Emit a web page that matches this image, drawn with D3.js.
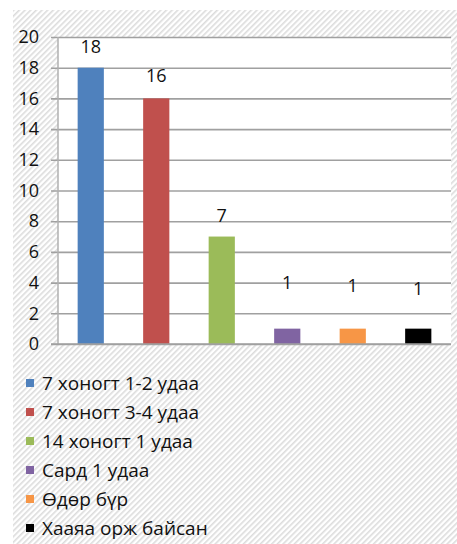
<!DOCTYPE html>
<html>
<head>
<meta charset="utf-8">
<script src="https://cdn.jsdelivr.net/npm/d3@7"></script>
<style>
  body { margin: 0; background: #fff; }
  svg text { font-family: "Open Sans", "Liberation Sans", sans-serif; fill: #111; }
</style>
</head>
<body>
<div id="chart"></div>
<script>
var width = 457
var height = 544

// data
var categories = ["7 хоногт 1-2 удаа", "7 хоногт 3-4 удаа", "14 хоногт 1 удаа", "Сард 1 удаа", "Өдөр бүр", "Хааяа орж байсан"]
var values = [18, 16, 7, 1, 1, 1]
var colors = ["#4f81bd", "#c0504d", "#9bbb59", "#8064a2", "#f79646", "#000000"]
var yTicks = [0, 2, 4, 6, 8, 10, 12, 14, 16, 18, 20]

// label offsets above bar top (the small ones sit higher, as in the source)
var labelLift = [21, 23, 21, 46, 43, 40]

var plot = { left: 58, right: 451, top: 37, bottom: 344 }

var svg = d3.select("#chart").append("svg")
    .attr("width", width)
    .attr("height", height)

// hatched background
var defs = svg.append("defs")
var pat = defs.append("pattern")
    .attr("id", "hatch")
    .attr("patternUnits", "userSpaceOnUse")
    .attr("width", 4).attr("height", 4)
    .attr("patternTransform", "rotate(45)")
pat.append("rect").attr("width", 4).attr("height", 4).attr("fill", "#ffffff")
pat.append("rect").attr("width", 1.6).attr("height", 4).attr("fill", "#dcdcdc")

svg.append("rect")
    .attr("x", 13).attr("y", 10)
    .attr("width", width - 13).attr("height", height - 10)
    .attr("fill", "url(#hatch)")

svg.append("rect")
    .attr("x", plot.left).attr("y", plot.top)
    .attr("width", plot.right - plot.left).attr("height", plot.bottom - plot.top)
    .attr("fill", "#ffffff")

var x = d3.scaleBand()
    .domain(categories)
    .range([plot.left, plot.right])
    .paddingInner(0.6)
    .paddingOuter(0.3)

var y = d3.scaleLinear()
    .domain([0, 20])
    .range([plot.bottom, plot.top])

// gridlines + y axis
var yAxis = d3.axisLeft(y)
    .tickValues(yTicks)
    .tickSize(-(plot.right - plot.left))

var gy = svg.append("g")
    .attr("transform", "translate(" + plot.left + ",0)")
    .call(yAxis)
gy.select(".domain").remove()
gy.selectAll(".tick line")
    .attr("x1", -7)
    .attr("stroke", "#a0a0a0")
    .attr("stroke-width", 1.6)
gy.selectAll(".tick text")
    .attr("x", -19)
    .style("font-size", "18px")
    .style("font-family", "\"Open Sans\", sans-serif")
    .attr("fill", "#111")

svg.append("line")
    .attr("x1", plot.left).attr("x2", plot.left)
    .attr("y1", plot.top).attr("y2", plot.bottom)
    .attr("stroke", "#b0b0b0").attr("stroke-width", 1.5)

// bars
svg.selectAll("rect.bar")
    .data(values)
    .enter()
    .append("rect")
    .attr("class", "bar")
    .attr("x", function(d, i) { return x(categories[i]) })
    .attr("y", function(d) { return y(d) })
    .attr("width", x.bandwidth())
    .attr("height", function(d) { return y(0) - y(d) })
    .attr("fill", function(d, i) { return colors[i] })

// redraw baseline on top
svg.append("line")
    .attr("x1", plot.left - 7).attr("x2", plot.right)
    .attr("y1", plot.bottom).attr("y2", plot.bottom)
    .attr("stroke", "#a0a0a0").attr("stroke-width", 1.6)

// value labels
svg.selectAll("text.val")
    .data(values)
    .enter()
    .append("text")
    .attr("class", "val")
    .attr("x", function(d, i) { return x(categories[i]) + x.bandwidth() / 2 })
    .attr("y", function(d, i) { return y(d) - labelLift[i] })
    .attr("dy", "0.35em")
    .attr("text-anchor", "middle")
    .style("font-size", "18px")
    .text(function(d) { return d })

// legend
var legend = svg.selectAll("g.leg")
    .data(categories)
    .enter()
    .append("g")
    .attr("class", "leg")
    .attr("transform", function(d, i) { return "translate(26," + (383 + i * 29) + ")" })

legend.append("rect")
    .attr("x", 0).attr("y", -4)
    .attr("width", 8).attr("height", 8)
    .attr("fill", function(d, i) { return colors[i] })

legend.append("text")
    .attr("x", 16)
    .attr("dy", "0.35em")
    .style("font-size", "19px")
    .text(function(d) { return d })
</script>
</body>
</html>
